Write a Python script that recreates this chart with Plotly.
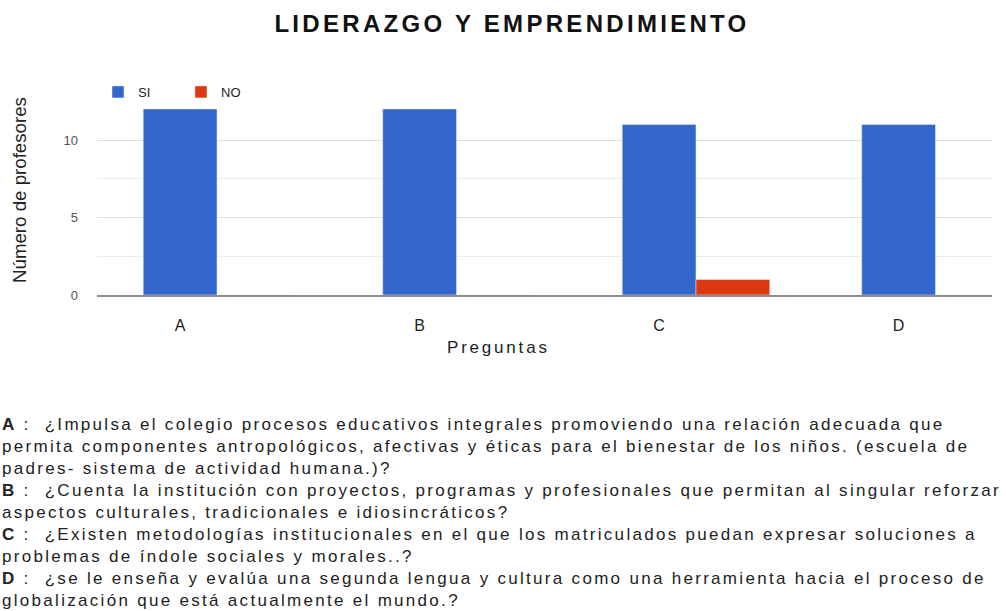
import plotly.graph_objects as go

# ---- data ----
categories = ["A", "B", "C", "D"]
si_values = [12, 12, 11, 11]
no_values = [0, 0, 1, 0]
series_names = ["SI", "NO"]
y_tick_values = [0, 5, 10]
chart_title = "LIDERAZGO Y EMPRENDIMIENTO"
x_title = "Preguntas"
y_title = "Número de profesores"
question_lines = [
    ("A", ":\u00a0 ¿Impulsa el colegio procesos educativos integrales promoviendo una relación adecuada que"),
    ("", "permita componentes antropológicos, afectivas y éticas para el bienestar de los niños. (escuela de"),
    ("", "padres- sistema de actividad humana.)?"),
    ("B", ":\u00a0 ¿Cuenta la institución con proyectos, programas y profesionales que permitan al singular reforzar"),
    ("", "aspectos culturales, tradicionales e idiosincráticos?"),
    ("C", ":\u00a0 ¿Existen metodologías institucionales en el que los matriculados puedan expresar soluciones a"),
    ("", "problemas de índole sociales y morales..?"),
    ("D", ":\u00a0 ¿se le enseña y evalúa una segunda lengua y cultura como una herramienta hacia el proceso de"),
    ("", "globalización que está actualmente el mundo.?"),
]

W, H = 1006, 611
L, R, T, B = 97, 14, 101, 316
PW, PH = W - L - R, H - T - B
FONT = "Liberation Sans, Arial, sans-serif"
BLUE, RED = "#3366cc", "#dc3912"
BAR_W = 0.308


def px_x(p):
    return (p - L) / PW


def px_y(p):
    return (H - B - p) / PH


fig = go.Figure()
fig.add_trace(go.Bar(x=categories, y=si_values, name=series_names[0], marker_color=BLUE,
                     width=BAR_W, offset=-BAR_W / 2))
fig.add_trace(go.Bar(x=categories, y=no_values, name=series_names[1], marker_color=RED,
                     width=BAR_W, offset=BAR_W / 2))

annotations = []
# x axis title
annotations.append(dict(text=f'<span style="letter-spacing:2.8px">{x_title}</span>',
                        xref="paper", yref="paper", x=px_x(498), y=px_y(347),
                        xanchor="center", yanchor="middle", showarrow=False,
                        font=dict(family=FONT, size=17, color="#222")))
# y axis title
annotations.append(dict(text=y_title, xref="paper", yref="paper", x=px_x(19), y=px_y(190),
                        xanchor="center", yanchor="middle", textangle=-90, showarrow=False,
                        font=dict(family=FONT, size=18.7, color="#222")))
# question text
for i, (lab, txt) in enumerate(question_lines):
    yc = 424 + 22 * i
    body = (f"<b>{lab}</b> " if lab else "") + txt
    annotations.append(dict(text=f'<span style="letter-spacing:2.3px">{body}</span>',
                            xref="paper", yref="paper", x=px_x(0), y=px_y(yc),
                            xanchor="left", yanchor="middle", showarrow=False,
                            font=dict(family=FONT, size=17, color="#222")))

fig.update_layout(
    width=W, height=H,
    margin=dict(l=L, r=R, t=T, b=B, pad=0),
    paper_bgcolor="white", plot_bgcolor="white",
    barmode="overlay",
    title=dict(text=f'<span style="letter-spacing:3.3px"><b>{chart_title}</b></span>',
               x=512 / W, xref="container", xanchor="center",
               y=1 - 24 / H, yref="container", yanchor="middle",
               font=dict(family=FONT, size=24, color="#111")),
    legend=dict(orientation="h", x=px_x(98), y=px_y(92), xanchor="left", yanchor="middle",
                font=dict(family=FONT, size=13, color="#222"),
                entrywidth=38, entrywidthmode="pixels", bgcolor="rgba(0,0,0,0)"),
    xaxis=dict(type="category", range=[-0.347, 3.39], showgrid=False,
               showline=True, linecolor="#8c8c8c", linewidth=1.5,
               ticks="", ticklabelstandoff=15,
               tickfont=dict(family=FONT, size=16, color="#222"), fixedrange=True),
    yaxis=dict(range=[0, 12.52], tickvals=y_tick_values, showgrid=True, gridcolor="#dedede",
               gridwidth=1, zeroline=False, ticks="", ticklabelstandoff=18,
               minor=dict(dtick=2.5, tick0=0, showgrid=True, gridcolor="#ececec", gridwidth=1),
               tickfont=dict(family=FONT, size=13, color="#555"), fixedrange=True),
    annotations=annotations,
    showlegend=True,
)

fig.write_html("out.html", config={"displayModeBar": False},
               post_script="document.body.style.margin='0';document.body.style.overflow='hidden';")
